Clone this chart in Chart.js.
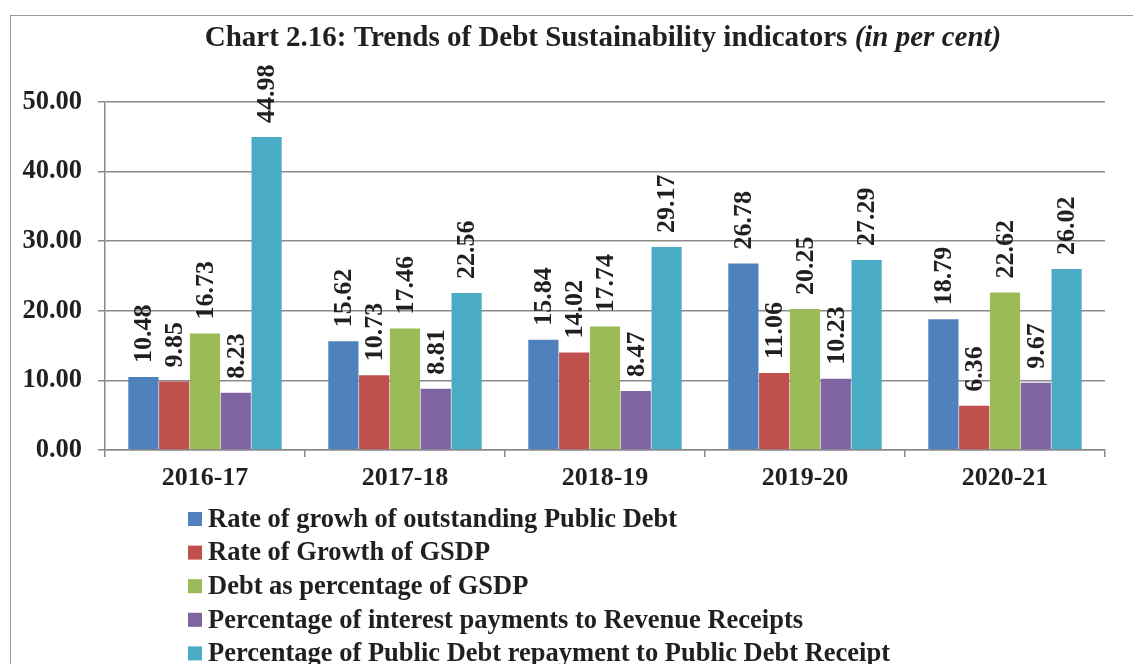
<!DOCTYPE html>
<html>
<head>
<meta charset="utf-8">
<script src="https://cdn.jsdelivr.net/npm/chart.js@4"></script>
<style>
  html, body { margin: 0; padding: 0; background: #fff; overflow: hidden; }
  #frame { position: absolute; left: 10px; top: 15px; width: 1300px; height: 900px; border: 1.5px solid #999; }
  #debtChart { position: absolute; left: 0; top: 0; }
</style>
</head>
<body>
<div id="frame"></div>
<canvas id="debtChart" width="1133" height="664"></canvas>
<script>
var years = ['2016-17', '2017-18', '2018-19', '2019-20', '2020-21'];
var seriesNames = [
  'Rate of growh of outstanding Public Debt',
  'Rate of Growth of GSDP',
  'Debt as percentage of GSDP',
  'Percentage of interest payments to Revenue Receipts',
  'Percentage of Public Debt repayment to Public Debt Receipt'
];
var debtGrowth = [10.48, 15.62, 15.84, 26.78, 18.79];
var gsdpGrowth = [9.85, 10.73, 14.02, 11.06, 6.36];
var debtToGsdp = [16.73, 17.46, 17.74, 20.25, 22.62];
var interestToRevenue = [8.23, 8.81, 8.47, 10.23, 9.67];
var repaymentToReceipt = [44.98, 22.56, 29.17, 27.29, 26.02];
var colours = ['#4F81BD', '#C0504D', '#9BBB59', '#8064A2', '#4BACC6'];

var serif = '"Liberation Serif", "Times New Roman", serif';
var ink = '#231f20';

var titlePlugin = {
  id: 'twoPartTitle',
  afterDraw: function(chart) {
    var ctx = chart.ctx;
    var partA = 'Chart 2.16: Trends of Debt Sustainability indicators ';
    var partB = '(in per cent)';
    ctx.save();
    ctx.fillStyle = ink;
    ctx.textBaseline = 'middle';
    ctx.font = 'bold 29px ' + serif;
    var wA = ctx.measureText(partA).width;
    ctx.font = 'italic bold 29px ' + serif;
    var wB = ctx.measureText(partB).width;
    var x = 603 - (wA + wB) / 2;
    ctx.font = 'bold 29px ' + serif;
    ctx.textAlign = 'left';
    ctx.fillText(partA, x, 39);
    ctx.font = 'italic bold 29px ' + serif;
    ctx.fillText(partB, x + wA, 39);
    ctx.restore();
  }
};

var valueLabels = {
  id: 'valueLabels',
  afterDatasetsDraw: function(chart) {
    var ctx = chart.ctx;
    ctx.save();
    ctx.fillStyle = ink;
    ctx.font = 'bold 26px ' + serif;
    ctx.textAlign = 'left';
    ctx.textBaseline = 'middle';
    chart.data.datasets.forEach(function(ds, i) {
      chart.getDatasetMeta(i).data.forEach(function(bar, j) {
        ctx.save();
        ctx.translate(bar.x + 1, bar.y - 14);
        ctx.rotate(-Math.PI / 2);
        ctx.fillText(ds.data[j].toFixed(2), 0, 0);
        ctx.restore();
      });
    });
    ctx.restore();
  }
};

var listLegend = {
  id: 'listLegend',
  afterDraw: function(chart) {
    var ctx = chart.ctx;
    ctx.save();
    ctx.font = 'bold 26.5px ' + serif;
    ctx.textBaseline = 'middle';
    ctx.textAlign = 'left';
    chart.data.datasets.forEach(function(ds, i) {
      var y = 519 + i * 33.6;
      ctx.fillStyle = ds.backgroundColor;
      ctx.fillRect(188, y - 7, 14, 14);
      ctx.fillStyle = ink;
      ctx.fillText(ds.label, 208, y + 1);
    });
    ctx.restore();
  }
};

var allSeries = [debtGrowth, gsdpGrowth, debtToGsdp, interestToRevenue, repaymentToReceipt];

new Chart(document.getElementById('debtChart'), {
  type: 'bar',
  data: {
    labels: years,
    datasets: allSeries.map(function(vals, i) {
      return {
        label: seriesNames[i],
        data: vals,
        backgroundColor: colours[i],
        borderWidth: 0
      };
    })
  },
  options: {
    responsive: false,
    animation: false,
    layout: { padding: { top: 102, right: 28, bottom: 164, left: 0 } },
    datasets: { bar: { categoryPercentage: 0.77, barPercentage: 0.98 } },
    plugins: {
      legend: { display: false },
      title: { display: false },
      tooltip: { enabled: false }
    },
    scales: {
      x: {
        afterFit: function(scale) { scale.height = 50; },
        grid: {
          drawOnChartArea: false,
          drawTicks: true,
          tickLength: 7,
          color: '#8a8a8a',
          lineWidth: 1.5,
          offset: true
        },
        border: { color: '#8a8a8a', width: 1.5 },
        ticks: {
          color: ink,
          font: { family: serif, size: 26, weight: 'bold' },
          padding: 6
        }
      },
      y: {
        min: 0,
        max: 50,
        afterFit: function(scale) { scale.width = 105; },
        grid: { color: '#8a8a8a', lineWidth: 1.5, tickLength: 7 },
        border: { color: '#8a8a8a', width: 1.5 },
        ticks: {
          stepSize: 10,
          color: ink,
          padding: 16,
          font: { family: serif, size: 26.5, weight: 'bold' },
          callback: function(v) { return v.toFixed(2); }
        }
      }
    }
  },
  plugins: [titlePlugin, valueLabels, listLegend]
});
</script>
</body>
</html>
